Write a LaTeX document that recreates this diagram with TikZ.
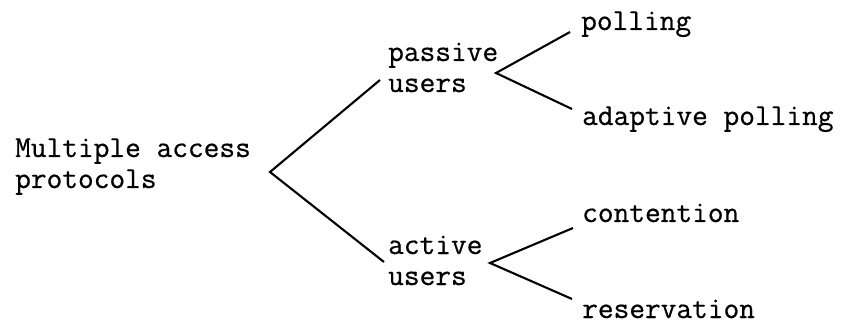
\documentclass[tikz,border=0pt]{standalone}
\usepackage{fontspec}
\newfontfamily\typew{Latin Modern Mono}[FakeBold=0.6]
\begin{document}
\begin{tikzpicture}[x=1pt,y=-1pt,
  lbl/.style={anchor=base west,inner sep=0pt,align=left,
    font=\typew\fontsize{30.5}{31}\selectfont},
  branch/.style={line width=2.1pt,line join=miter}]
\useasboundingbox (0,0) rectangle (844,326);
\node[lbl] (map) at (15,188) {Multiple access\\protocols};
\node[lbl] (pas) at (388,92) {passive\\users};
\node[lbl] (act) at (388,285) {active\\users};
\node[lbl] (pol) at (581,30) {polling};
\node[lbl] (apo) at (582,125) {adaptive polling};
\node[lbl] (con) at (582,222) {contention};
\node[lbl] (res) at (582,318) {reservation};
\coordinate (f0) at (270,172);
\coordinate (f0a) at (380,80);
\coordinate (f0b) at (384,262);
\coordinate (f1) at (496,73);
\coordinate (f1a) at (570,32);
\coordinate (f1b) at (572,109);
\coordinate (f2) at (490,263);
\coordinate (f2a) at (573,228);
\coordinate (f2b) at (572,299);
\draw[branch] (f0a) -- (f0) -- (f0b);
\draw[branch] (f1a) -- (f1) -- (f1b);
\draw[branch] (f2a) -- (f2) -- (f2b);
\end{tikzpicture}
\end{document}
